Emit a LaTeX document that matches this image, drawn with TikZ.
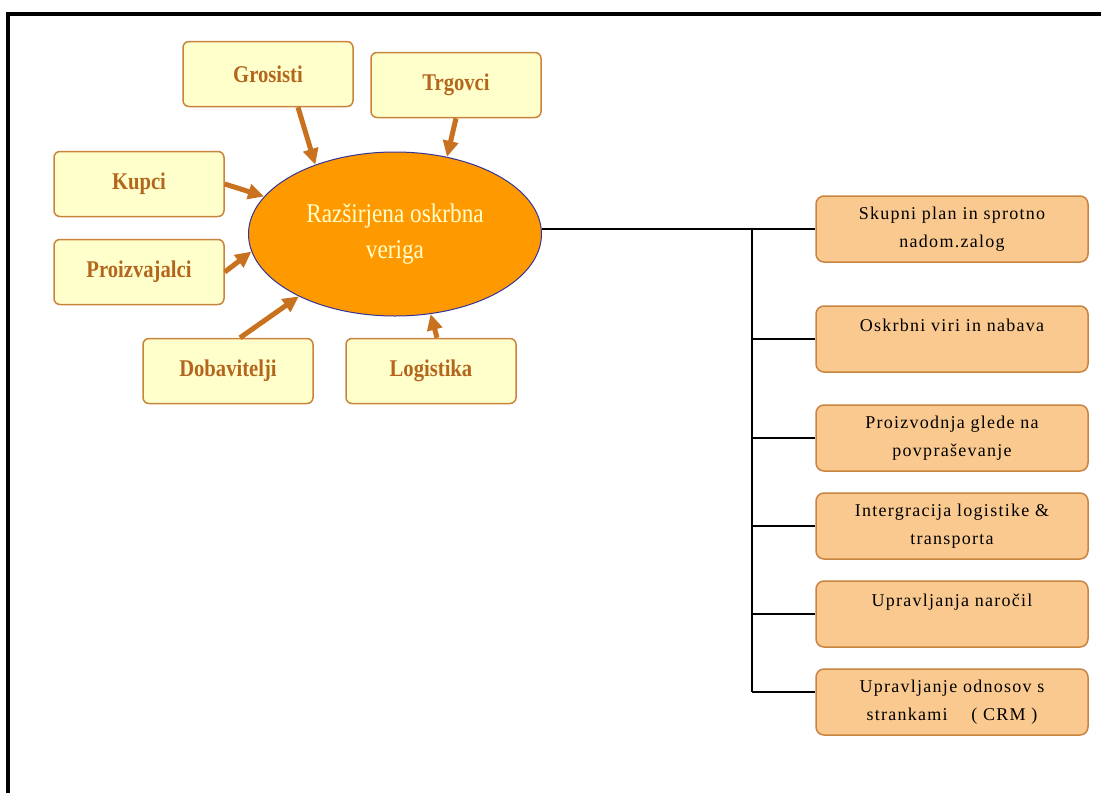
\documentclass[tikz,border=0pt]{standalone}
\usepackage{fontspec}
\setmainfont{Liberation Serif}
\newfontfamily\narrowfont[FakeStretch=0.86]{Liberation Serif}
\newfontfamily\spacedfont[LetterSpace=7]{Liberation Serif}
\usetikzlibrary{shapes.geometric,arrows.meta}
\definecolor{actorfill}{HTML}{FFFFCC}
\definecolor{actorline}{HTML}{C8843C}
\definecolor{actortext}{HTML}{B4661E}
\definecolor{taskfill}{HTML}{FAC98F}
\definecolor{taskline}{HTML}{C88440}
\definecolor{arrowcol}{HTML}{C8711E}
\definecolor{ellfill}{HTML}{FF9900}
\definecolor{ellline}{HTML}{333399}
\definecolor{elltext}{HTML}{FFFFCC}

\begin{document}
\begin{tikzpicture}[x=1pt,y=-1pt,align=center]
\tikzstyle{actor} = [rectangle, rounded corners=6pt, minimum width=170pt, minimum height=65pt, draw=actorline, line width=1.5pt, fill=actorfill, text=actortext, font=\narrowfont\bfseries\fontsize{24}{28}\selectfont]
\tikzstyle{task} = [rectangle, rounded corners=8pt, minimum width=272pt, minimum height=66pt, draw=taskline, line width=1.5pt, fill=taskfill, font=\spacedfont\fontsize{18}{28}\selectfont]
\tikzstyle{chain} = [ellipse, minimum width=293pt, minimum height=164pt, inner sep=0pt, draw=ellline, line width=1pt, fill=ellfill, text=elltext, font=\narrowfont\fontsize{27}{36}\selectfont]
\tikzstyle{arrow} = [line width=5pt, draw=arrowcol, -{Triangle[length=16pt,width=15pt]}]
\tikzstyle{link} = [line width=1.8pt, black]
\tikzstyle{pageframe} = [line width=3.5pt, black]
\useasboundingbox (0,0) rectangle (1101,793);
\draw [pageframe] (1101,14) -- (8,14) -- (8,793);
    \path
        (395, 234) node[chain] (chain) {Razširjena oskrbna\\veriga}
        (268, 74) node[actor] (grosisti) {Grosisti}
        (456, 85) node[actor] (trgovci) {Trgovci}
        (139, 184) node[actor] (kupci) {Kupci}
        (139, 272) node[actor] (proizvajalci) {Proizvajalci}
        (228, 371) node[actor] (dobavitelji) {Dobavitelji}
        (431, 371) node[actor] (logistika) {Logistika}
        (952, 229) node[task] (plan) {Skupni plan in sprotno\\nadom.zalog}
        (952, 339) node[task] (viri) {Oskrbni viri in nabava\\\mbox{}}
        (952, 438) node[task] (proizvodnja) {Proizvodnja glede na\\povpraševanje}
        (952, 526) node[task] (integracija) {Intergracija logistike \&\\transporta}
        (952, 614) node[task] (narocila) {Upravljanja naročil\\\mbox{}}
        (952, 702) node[task] (crm) {Upravljanje odnosov s\\strankami \quad ( CRM )};

        \draw [arrow] ([xshift=30pt]grosisti.south) -- (chain.139);
        \draw [arrow] (trgovci.south) -- (chain.56);
        \draw [arrow] (kupci.east) -- (chain.164);
        \draw [arrow] (proizvajalci.east) -- (chain.187);
        \draw [arrow] ([xshift=12pt]dobavitelji.north) -- (chain.213);
        \draw [arrow] ([xshift=6pt]logistika.north) -- (chain.294);

        \coordinate (trunk) at (752, 230);
        \coordinate (crmjoin) at ([yshift=10pt]crm.west);
        \draw [link, line width=2.6pt] (plan.west -| chain.east) -- (plan.west);
        \draw [link] (trunk) -- (trunk |- crmjoin);
        \draw [link, line width=2.6pt] (trunk |- viri.west) -- (viri.west);
        \draw [link] (trunk |- proizvodnja.west) -- (proizvodnja.west);
        \draw [link] (trunk |- integracija.west) -- (integracija.west);
        \draw [link] (trunk |- narocila.west) -- (narocila.west);
        \draw [link] (trunk |- crmjoin) -- (crmjoin);
\end{tikzpicture}
\end{document}
